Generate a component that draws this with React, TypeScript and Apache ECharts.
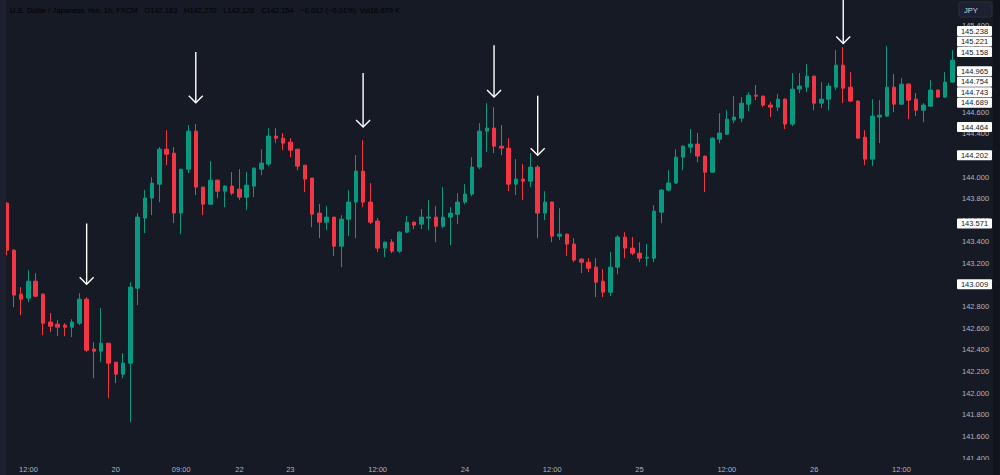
import React, { useEffect, useRef } from "react";
import * as echarts from "echarts";

// ---- Candle data (1h USD/JPY) ----
const openPrices = [
  143.759, 143.324, 142.917, 142.880, 143.037, 142.917, 142.658, 142.639, 142.630, 142.611,
  142.648, 142.870, 142.408, 142.389, 142.463, 142.287, 142.176, 142.278, 142.972, 143.621,
  143.806, 143.935, 144.259, 144.222, 143.667, 144.074, 144.426, 143.908, 143.750, 143.972,
  143.870, 143.917, 143.889, 143.815, 143.917, 144.074, 144.121, 144.380, 144.361, 144.324,
  144.259, 144.111, 143.991, 143.667, 143.583, 143.630, 143.361, 143.611, 143.769, 144.056,
  143.769, 143.593, 143.343, 143.398, 143.315, 143.491, 143.583, 143.565, 143.621, 143.630,
  143.546, 143.630, 143.657, 143.769, 143.843, 144.093, 144.426, 144.454, 144.287, 144.269,
  143.935, 143.982, 143.963, 144.093, 143.667, 143.769, 143.454, 143.472, 143.380, 143.241,
  143.213, 143.167, 143.037, 142.935, 143.167, 143.445, 143.343, 143.296, 143.250, 143.250,
  143.676, 143.880, 143.945, 144.185, 144.278, 144.306, 144.195, 144.046, 144.352, 144.398,
  144.528, 144.546, 144.676, 144.759, 144.750, 144.667, 144.648, 144.722, 144.491, 144.815,
  144.833, 144.935, 144.685, 144.722, 144.833, 145.037, 144.833, 144.704, 144.370, 144.167,
  144.556, 144.565, 144.833, 144.676, 144.861, 144.722, 144.620, 144.657, 144.806, 144.741,
  144.880,
];
const closePrices = [
  143.324, 142.908, 142.870, 143.037, 142.898, 142.648, 142.620, 142.611, 142.611, 142.658,
  142.870, 142.398, 142.389, 142.463, 142.278, 142.176, 142.278, 142.982, 143.630, 143.806,
  143.945, 144.259, 144.213, 143.667, 144.074, 144.426, 143.908, 143.750, 143.972, 143.870,
  143.917, 143.852, 143.815, 143.926, 144.083, 144.130, 144.380, 144.361, 144.315, 144.250,
  144.102, 143.982, 143.657, 143.583, 143.630, 143.361, 143.611, 143.769, 144.056, 143.769,
  143.583, 143.343, 143.398, 143.315, 143.491, 143.583, 143.556, 143.630, 143.630, 143.546,
  143.630, 143.667, 143.769, 143.843, 144.093, 144.426, 144.454, 144.287, 144.269, 143.935,
  143.982, 143.963, 144.093, 143.667, 143.769, 143.454, 143.472, 143.380, 143.232, 143.213,
  143.157, 143.028, 142.935, 143.167, 143.445, 143.343, 143.296, 143.250, 143.259, 143.685,
  143.880, 143.945, 144.185, 144.287, 144.306, 144.195, 144.046, 144.361, 144.408, 144.537,
  144.556, 144.685, 144.759, 144.750, 144.667, 144.648, 144.722, 144.491, 144.815, 144.843,
  144.935, 144.685, 144.722, 144.843, 145.037, 144.824, 144.704, 144.361, 144.167, 144.565,
  144.574, 144.833, 144.676, 144.861, 144.713, 144.620, 144.667, 144.806, 144.741, 144.880,
  145.083,
];
const lowPrices = [
  143.278, 142.796, 142.722, 142.843, 142.889, 142.537, 142.565, 142.528, 142.528, 142.519,
  142.630, 142.380, 142.139, 142.287, 141.954, 142.093, 142.139, 141.732, 142.815, 143.482,
  143.648, 143.769, 144.111, 143.574, 143.472, 144.037, 143.833, 143.648, 143.741, 143.806,
  143.722, 143.833, 143.787, 143.695, 143.815, 144.019, 144.102, 144.315, 144.250, 144.185,
  144.065, 143.861, 143.537, 143.435, 143.509, 143.269, 143.167, 143.454, 143.435, 143.722,
  143.565, 143.306, 143.259, 143.296, 143.296, 143.482, 143.519, 143.519, 143.509, 143.398,
  143.528, 143.371, 143.565, 143.750, 143.824, 144.074, 144.232, 144.222, 144.204, 143.870,
  143.833, 143.787, 143.908, 143.435, 143.602, 143.398, 143.417, 143.269, 143.213, 143.111,
  143.120, 142.889, 142.889, 142.898, 143.102, 143.250, 143.278, 143.213, 143.176, 143.213,
  143.574, 143.870, 143.935, 144.065, 144.222, 144.139, 143.861, 144.040, 144.315, 144.390,
  144.500, 144.509, 144.611, 144.713, 144.648, 144.556, 144.611, 144.445, 144.472, 144.778,
  144.787, 144.620, 144.639, 144.620, 144.806, 144.685, 144.695, 144.355, 144.111, 144.102,
  144.315, 144.560, 144.602, 144.670, 144.537, 144.565, 144.509, 144.650, 144.735, 144.735,
  144.875,
];
const highPrices = [
  143.769, 143.333, 142.982, 143.139, 143.111, 142.926, 142.741, 142.676, 142.648, 142.685,
  142.926, 142.889, 142.472, 142.787, 142.463, 142.287, 142.371, 143.028, 143.667, 143.880,
  144.000, 144.278, 144.435, 144.278, 144.074, 144.482, 144.491, 143.908, 144.148, 143.980,
  143.925, 144.046, 144.074, 144.046, 144.090, 144.259, 144.454, 144.454, 144.408, 144.361,
  144.259, 144.111, 143.991, 143.750, 143.732, 143.630, 143.648, 143.880, 144.204, 144.343,
  143.945, 143.621, 143.405, 143.426, 143.500, 143.639, 143.590, 143.704, 143.787, 143.732,
  143.908, 143.722, 143.852, 143.935, 144.185, 144.500, 144.685, 144.648, 144.482, 144.361,
  144.167, 144.121, 144.222, 144.111, 143.870, 143.775, 143.713, 143.480, 143.435, 143.250,
  143.250, 143.250, 143.148, 143.306, 143.463, 143.491, 143.445, 143.398, 143.380, 143.741,
  143.890, 144.065, 144.259, 144.295, 144.445, 144.408, 144.200, 144.370, 144.593, 144.620,
  144.750, 144.741, 144.787, 144.852, 144.755, 144.695, 144.769, 144.730, 144.963, 144.963,
  145.046, 144.940, 144.880, 144.870, 145.176, 145.204, 144.972, 144.713, 144.435, 144.722,
  144.713, 145.213, 144.954, 144.917, 144.870, 144.778, 144.685, 144.898, 144.812, 144.972,
  145.176,
];

// ---- Time axis labels ----
const xTickIndex = [3, 15, 24, 32, 39, 51, 63, 75, 87, 99, 111, 123];
const xTickLabels = ["12:00", "20", "09:00", "22", "23", "12:00", "24", "12:00", "25", "12:00", "26", "12:00"];

// ---- Price axis ----
const yMin = 141.4;
const yMax = 145.64;
const yStep = 0.2;

// ---- Drawn arrows (candle index, start price, tip price) ----
const arrowCandle = [11, 26, 49, 67, 73, 115];
const arrowTop = [143.571, 145.158, 144.965, 145.221, 144.754, 145.75];
const arrowTip = [143.009, 144.689, 144.464, 144.743, 144.202, 145.238];

// ---- Price tags on the scale ----
const priceTags = [145.238, 145.221, 145.158, 144.965, 144.754, 144.743, 144.689, 144.464, 144.202, 143.571, 143.009];

// ---- Header legend ----
const headerTitle = "U.S. Dollar / Japanese Yen, 1h, FXCM";
const headerKeys = ["O", "H", "L", "C"];
const headerVals = ["142.163", "142.270", "142.126", "142.154"];
const headerChange = "\u22120.012 (\u22120.01%)";
const headerVol = "16.679 K";

const BG = "#161a25";
const UP = "#089981";
const DOWN = "#f23645";
const TXT = "#b2b5be";
const FONT = "'Liberation Sans', Arial, sans-serif";

export default function App() {
  const ref = useRef<HTMLDivElement>(null);

  useEffect(() => {
    if (!ref.current) return;
    const chart = echarts.init(ref.current, null, { renderer: "svg" });

    const categories = openPrices.map((_, i) => String(i));
    const candles = openPrices.map((o, i) => [o, closePrices[i], lowPrices[i], highPrices[i]]);
    const arrows = arrowCandle.map((c, i) => [c, arrowTop[i], arrowTip[i]]);

    const gridRight = 44;

    chart.setOption({
      animation: false,
      backgroundColor: BG,
      textStyle: { fontFamily: FONT },
      grid: { left: 3, right: gridRight, top: 0, bottom: 17, containLabel: false },
      xAxis: {
        type: "category",
        data: categories,
        boundaryGap: true,
        axisLine: { show: false },
        axisTick: { show: false },
        splitLine: { show: false },
        axisLabel: {
          interval: (index: number) => xTickIndex.includes(index),
          formatter: (_v: string, index: number) => {
            const k = xTickIndex.indexOf(index);
            return k >= 0 ? xTickLabels[k] : "";
          },
          color: TXT,
          fontSize: 7.5,
          fontFamily: FONT,
          margin: 7,
        },
      },
      yAxis: {
        type: "value",
        position: "right",
        min: yMin,
        max: yMax,
        interval: yStep,
        axisLine: { show: false },
        axisTick: { show: false },
        splitLine: { show: false },
        axisLabel: {
          color: TXT,
          fontSize: 7.5,
          fontFamily: FONT,
          margin: 6,
          showMaxLabel: false,
          formatter: (v: number) => v.toFixed(3),
        },
      },
      series: [
        {
          type: "candlestick",
          data: candles,
          barWidth: 4,
          itemStyle: {
            color: UP,
            color0: DOWN,
            borderColor: UP,
            borderColor0: DOWN,
            borderWidth: 1,
          },
          silent: true,
        },
        {
          type: "custom",
          data: arrows,
          encode: { x: 0, y: [1, 2] },
          silent: true,
          z: 10,
          clip: false,
          renderItem: (_params: any, api: any) => {
            const top = api.coord([api.value(0), api.value(1)]);
            const tip = api.coord([api.value(0), api.value(2)]);
            const style = { stroke: "#ffffff", lineWidth: 1.4, fill: "none" };
            return {
              type: "group",
              children: [
                { type: "line", shape: { x1: tip[0], y1: top[1], x2: tip[0], y2: tip[1] }, style },
                {
                  type: "polyline",
                  shape: { points: [[tip[0] - 7, tip[1] - 7], [tip[0], tip[1]], [tip[0] + 7, tip[1] - 7]] },
                  style,
                },
              ],
            };
          },
        },
      ],
    });

    // price tags stacked like the trading platform does
    const ys = priceTags.map((v) => chart.convertToPixel({ yAxisIndex: 0 }, v) as number);
    const order = ys.map((_, i) => i).sort((a, b) => ys[b] - ys[a]);
    const placed: number[] = [];
    let prev = Infinity;
    for (const i of order) {
      const y = Math.min(ys[i], prev - 10.5);
      placed[i] = y;
      prev = y;
    }
    const W = chart.getWidth();
    const H = chart.getHeight();
    const tagX = W - gridRight + 1;
    const tagW = 35;

    const tagEls: any[] = [];
    priceTags.forEach((v, i) => {
      tagEls.push({
        type: "rect",
        z: 200,
        shape: { x: tagX, y: placed[i] - 5, width: tagW, height: 10, r: 1 },
        style: { fill: "#ffffff" },
      });
      tagEls.push({
        type: "text",
        z: 201,
        x: tagX + tagW / 2,
        y: placed[i],
        style: {
          text: v.toFixed(3),
          align: "center",
          verticalAlign: "middle",
          fill: "#131722",
          fontSize: 7.5,
          fontFamily: FONT,
        },
      });
    });

    const rich = {
      t: { color: "#d1d4dc", fontSize: 7.5, fontFamily: FONT },
      k: { color: "#d1d4dc", fontSize: 7.5, fontFamily: FONT },
      v: { color: DOWN, fontSize: 7.5, fontFamily: FONT },
    };
    let headerText = `{t|${headerTitle}}  `;
    headerKeys.forEach((k, i) => {
      headerText += `{k|${k}}{v|${headerVals[i]}}  `;
    });
    headerText += `{v|${headerChange}} {k|Vol}{v|${headerVol}}`;

    chart.setOption({
      graphic: [
        // left panel edge
        { type: "rect", z: 150, shape: { x: 0, y: 0, width: 6, height: H }, style: { fill: "#1c2030" } },
        // right edge strip
        { type: "rect", z: 150, shape: { x: W - 7, y: 0, width: 7, height: H }, style: { fill: "#12141c" } },
        // cover below price scale bottom
        { type: "rect", z: 150, shape: { x: W - gridRight, y: H - 15, width: gridRight - 7, height: 15 }, style: { fill: BG } },
        // JPY currency box
        {
          type: "rect",
          z: 200,
          shape: { x: W - 41, y: 2, width: 33, height: 15, r: 2 },
          style: { fill: "#1c2030", stroke: "#2a2e39", lineWidth: 1 },
        },
        {
          type: "text",
          z: 201,
          x: W - 36,
          y: 10,
          style: { text: "JPY", fill: "#d1d4dc", fontSize: 7.5, fontFamily: FONT, verticalAlign: "middle" },
        },
        ...tagEls,
        {
          type: "text",
          z: 201,
          x: 10,
          y: 10,
          style: { text: headerText, rich, verticalAlign: "middle" },
        },
      ],
    });

    return () => chart.dispose();
  }, []);

  return (
    <div
      ref={ref}
      style={{ position: "fixed", left: 0, top: 0, width: 1000, height: 475 }}
    />
  );
}
